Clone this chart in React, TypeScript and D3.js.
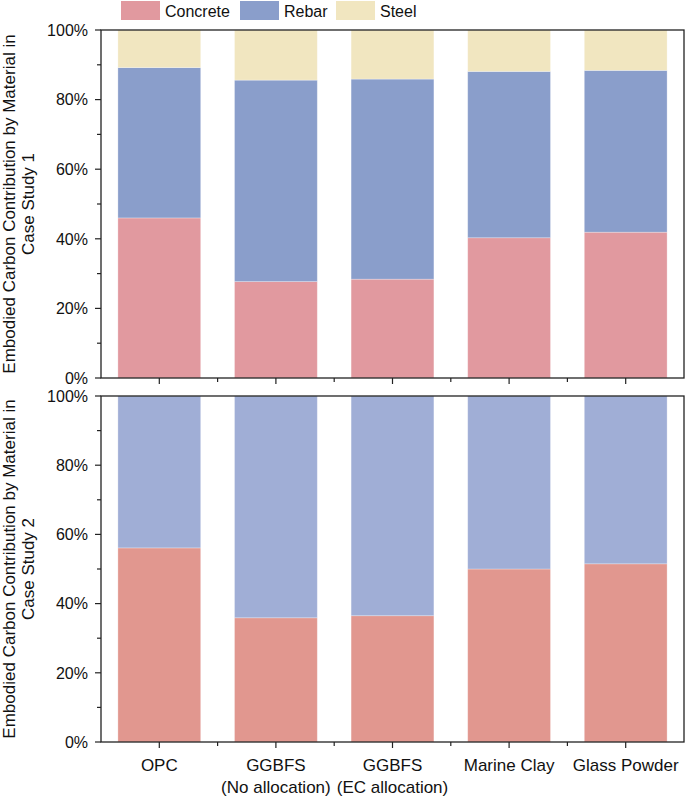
import React from "react";
import * as d3 from "d3";

const categories = ["OPC", "GGBFS|(No allocation)", "GGBFS|(EC allocation)", "Marine Clay", "Glass Powder"];
const series = ["Concrete", "Rebar", "Steel"];
const case1Concrete = [46.0, 27.7, 28.4, 40.3, 41.9];
const case1Rebar = [43.2, 57.9, 57.5, 47.8, 46.5];
const case1Steel = [10.8, 14.4, 14.1, 11.9, 11.6];
const case2Concrete = [56.1, 35.9, 36.5, 50.0, 51.5];
const case2Rebar = [43.9, 64.1, 63.5, 50.0, 48.5];
const yTicks = [0, 20, 40, 60, 80, 100];

const colors1 = ["#E1999F", "#8A9ECB", "#F1E6C0"];
const colors2 = ["#E1978F", "#A0AED6"];
const legendColors = ["#E1999F", "#8A9ECB", "#F1E6C0"];

const W = 685, H = 796;
const left = 101, right = 684;
const font = "Liberation Sans, Arial, sans-serif";

function Panel({ top, bottom, stacks, colors, label, showX }: any) {
  const x = d3.scaleBand().domain(categories).range([left, right]).paddingInner(0.29).paddingOuter(0.145);
  const xb = d3.scaleBand().domain(categories).range([left, right]);
  const y = d3.scaleLinear().domain([0, 100]).range([bottom, top]);
  const stack = d3.stack().keys(stacks.map((_: any, i: number) => String(i)));
  const rows = categories.map((c, j) => {
    const o: any = { cat: c };
    stacks.forEach((s: number[], i: number) => (o[String(i)] = s[j]));
    return o;
  });
  const layers = stack(rows);
  const minor = d3.range(0, 101, 10);
  const cy = (top + bottom) / 2;
  return (
    <g>
      {layers.map((layer, i) => (
        <g key={i} fill={colors[i]}>
          {layer.map((d, j) => (
            <rect key={j} x={x(categories[j])} width={x.bandwidth()} y={y(d[1])} height={y(d[0]) - y(d[1])} stroke="#ffffff" strokeOpacity={0.35} strokeWidth={0.8} />
          ))}
        </g>
      ))}
      <rect x={left} y={top} width={right - left} height={bottom - top} fill="none" stroke="#222" strokeWidth={1.3} />
      {minor.map((v) => (
        <line key={v} x1={left} x2={left - (v % 20 === 0 ? 6 : 4)} y1={y(v)} y2={y(v)} stroke="#222" strokeWidth={1.2} />
      ))}
      {yTicks.map((v) => (
        <text key={v} x={left - 13} y={y(v)} dy="0.36em" textAnchor="end" fontSize={16} fontFamily={font} fill="#111">{v + "%"}</text>
      ))}
      {categories.map((c) => (
        <line key={c} x1={(x(c) as number) + x.bandwidth() / 2} x2={(x(c) as number) + x.bandwidth() / 2} y1={bottom} y2={bottom + 6} stroke="#222" strokeWidth={1.2} />
      ))}
      {categories.slice(1).map((c) => (
        <line key={c} x1={xb(c) as number} x2={xb(c) as number} y1={bottom} y2={bottom + 4} stroke="#222" strokeWidth={1.2} />
      ))}
      {showX && categories.map((c) => (
        <text key={c} x={(x(c) as number) + x.bandwidth() / 2} y={bottom + 29} textAnchor="middle" fontSize={17} fontFamily={font} fill="#111">
          {c.split("|").map((t, k) => (
            <tspan key={k} x={(x(c) as number) + x.bandwidth() / 2} dy={k === 0 ? 0 : 22}>{t}</tspan>
          ))}
        </text>
      ))}
      <text transform={`translate(15,${cy}) rotate(-90)`} textAnchor="middle" fontSize={17} fontFamily={font} fill="#111">
        <tspan x={0} dy={0}>Embodied Carbon Contribution by Material in</tspan>
        <tspan x={0} dy={19}>{label}</tspan>
      </text>
    </g>
  );
}

export default function App() {
  return (
    <svg width={W} height={H} style={{ position: "absolute", left: 0, top: 0, background: "#fff" }}>
      <rect width={W} height={H} fill="#fff" />
      {series.map((s, i) => {
        const xs = [121, 240, 336][i];
        return (
          <g key={s}>
            <rect x={xs} y={1} width={39} height={19} fill={legendColors[i]} />
            <text x={xs + 44} y={17} fontSize={16} fontFamily={font} fill="#111">{s}</text>
          </g>
        );
      })}
      <Panel top={30} bottom={378} stacks={[case1Concrete, case1Rebar, case1Steel]} colors={colors1} label="Case Study 1" showX={false} />
      <Panel top={396} bottom={742} stacks={[case2Concrete, case2Rebar]} colors={colors2} label="Case Study 2" showX={true} />
    </svg>
  );
}
